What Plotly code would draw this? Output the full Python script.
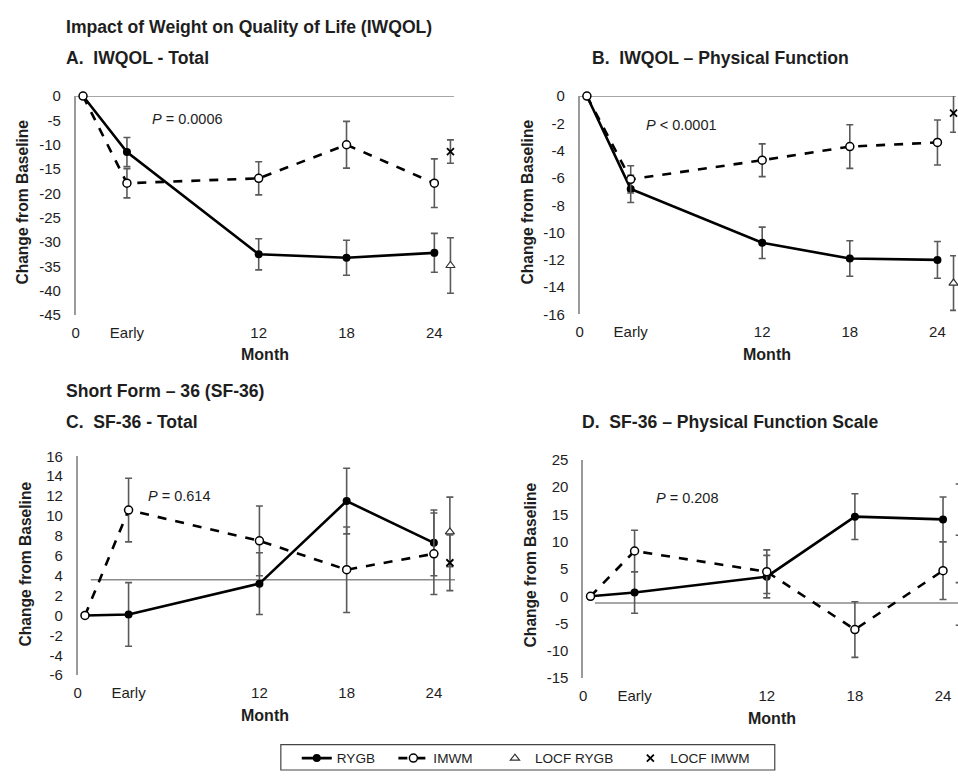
import plotly.graph_objects as go

# ---------------- data ----------------
months = [0, 3, 12, 18, 24]
locf_x = [25.1]
tick_vals = [-0.5, 3, 12, 18, 24]
tick_text = ["0", "Early", "12", "18", "24"]

# Panel A: IWQOL - Total
a_yticks = [0, -5, -10, -15, -20, -25, -30, -35, -40, -45]
a_rygb = [0, -11.5, -32.5, -33.2, -32.2]
a_rygb_err = [0, 3.0, 3.2, 3.6, 4.0]
a_imwm = [0, -17.9, -16.9, -10.0, -17.9]
a_imwm_err = [0, 3.0, 3.4, 4.8, 5.0]
a_locf_rygb = [-34.8]
a_locf_rygb_err = [5.7]
a_locf_imwm = [-11.4]
a_locf_imwm_err = [2.4]

# Panel B: IWQOL - Physical Function
b_yticks = [0, -2, -4, -6, -8, -10, -12, -14, -16]
b_rygb = [0, -6.8, -10.75, -11.9, -12.0]
b_rygb_err = [0, 1.0, 1.15, 1.3, 1.35]
b_imwm = [0, -6.1, -4.7, -3.7, -3.4]
b_imwm_err = [0, 1.0, 1.2, 1.6, 1.65]
b_locf_rygb = [-13.7]
b_locf_rygb_err = [2.0]
b_locf_imwm = [-1.25]
b_locf_imwm_err = [1.4]

# Panel C: SF-36 - Total
c_yticks = [16, 14, 12, 10, 8, 6, 4, 2, 0, -2, -4, -6]
c_rygb = [0, 0.1, 3.2, 11.5, 7.3]
c_rygb_err = [0, 3.2, 3.1, 3.3, 3.3]
c_imwm = [0, 10.6, 7.5, 4.6, 6.2]
c_imwm_err = [0, 3.2, 3.5, 4.3, 4.1]
c_locf_rygb = [8.4]
c_locf_rygb_err = [3.5]
c_locf_imwm = [5.3]
c_locf_imwm_err = [2.8]

# Panel D: SF-36 - Physical Function Scale
d_yticks = [25, 20, 15, 10, 5, 0, -5, -10, -15]
d_rygb = [0, 0.7, 3.6, 14.6, 14.1]
d_rygb_err = [0, 3.8, 3.9, 4.2, 4.1]
d_imwm = [0, 8.3, 4.5, -6.1, 4.7]
d_imwm_err = [0, 3.8, 4.0, 5.1, 5.3]
d_locf_rygb = [15.9]
d_locf_rygb_err = [4.7]
d_locf_imwm = [-1.4]
d_locf_imwm_err = [3.9]

axis_cross = [0, 0, 3.6, -1.25]
p_texts = ["<i>P</i> = 0.0006", "<i>P</i> < 0.0001", "<i>P</i> = 0.614", "<i>P</i> = 0.208"]
p_pos = [(4.6, -4.8), (3.9, -2.15), (4.2, 12.0), (4.3, 18.0)]
legend_names = ["RYGB", "IMWM", "LOCF RYGB", "LOCF IMWM"]

panels = [
    (a_rygb, a_rygb_err, a_imwm, a_imwm_err, a_locf_rygb, a_locf_rygb_err, a_locf_imwm, a_locf_imwm_err, a_yticks),
    (b_rygb, b_rygb_err, b_imwm, b_imwm_err, b_locf_rygb, b_locf_rygb_err, b_locf_imwm, b_locf_imwm_err, b_yticks),
    (c_rygb, c_rygb_err, c_imwm, c_imwm_err, c_locf_rygb, c_locf_rygb_err, c_locf_imwm, c_locf_imwm_err, c_yticks),
    (d_rygb, d_rygb_err, d_imwm, d_imwm_err, d_locf_rygb, d_locf_rygb_err, d_locf_imwm, d_locf_imwm_err, d_yticks),
]

# ---------------- layout geometry (pixels) ----------------
W, H = 958, 779
geo = [
    # x0px, x1px, xmax, y_top_px, y_bot_px, yrange
    (72, 452, 25.35, 89, 313, [-45, 0]),
    (578, 956, 25.27, 89, 312.3, [-16, 0]),
    (74, 453, 25.46, 457.3, 681, [-6, 16]),
    (581.6, 958, 25.02, 461, 684, [-15, 25]),
]
ytitle_pos = [(19, 197), (526, 197), (22, 567), (529, 568)]
month_pos = [(262, 353), (766, 353), (262, 722), (771, 725)]
xs_start = [-0.5, -0.5, 0.4, 0.3]
legend_x = [294, 391, 493, 629]
legend_box = (278, 752, 774, 778)

FONT = "Arial, Liberation Sans, sans-serif"
ERRC = "#5a5a5a"
TXT = "#1e1e1e"

fig = go.Figure()
layout_axes = {}
shapes = []
annotations = []
lg_ids = ["legend", "legend2", "legend3", "legend4"]

for i, (g, p) in enumerate(zip(geo, panels)):
    x0, x1, xmax, yt, yb, yr = g
    n = "" if i == 0 else str(i + 1)
    xa, ya = "x" + n, "y" + n
    rygb, rygb_e, imwm, imwm_e, lr, lr_e, li, li_e, yticks = p
    first = i == 0
    fig.add_trace(go.Scatter(
        x=months, y=rygb, xaxis=xa, yaxis=ya, name=legend_names[0], mode="lines+markers",
        line=dict(color="black", width=2.6),
        marker=dict(symbol="circle", size=8, color="black"),
        error_y=dict(type="data", array=rygb_e, color=ERRC, thickness=1.6, width=3.5),
        showlegend=first, legend=lg_ids[0], cliponaxis=False))
    fig.add_trace(go.Scatter(
        x=months, y=imwm, xaxis=xa, yaxis=ya, name=legend_names[1], mode="lines+markers",
        line=dict(color="black", width=2.6, dash="dash"),
        marker=dict(symbol="circle", size=8, color="white", line=dict(color="black", width=1.5)),
        error_y=dict(type="data", array=imwm_e, color=ERRC, thickness=1.6, width=3.5),
        showlegend=first, legend=lg_ids[1], cliponaxis=False))
    fig.add_trace(go.Scatter(
        x=locf_x, y=lr, xaxis=xa, yaxis=ya, name=legend_names[2], mode="markers",
        marker=dict(symbol="triangle-up", size=8, color="white", line=dict(color="#333", width=1.2)),
        error_y=dict(type="data", array=lr_e, color=ERRC, thickness=1.6, width=3.5),
        showlegend=first, legend=lg_ids[2], cliponaxis=False))
    fig.add_trace(go.Scatter(
        x=locf_x, y=li, xaxis=xa, yaxis=ya, name=legend_names[3], mode="markers",
        marker=dict(symbol="x-thin", size=7, color="black", line=dict(color="black", width=1.8)),
        error_y=dict(type="data", array=li_e, color=ERRC, thickness=1.6, width=3.5),
        showlegend=first, legend=lg_ids[3], cliponaxis=False))

    layout_axes["xaxis" + n] = dict(
        domain=[x0 / W, x1 / W], range=[-0.5, xmax], anchor=ya,
        tickmode="array", tickvals=tick_vals, ticktext=tick_text,
        showgrid=False, zeroline=False, showline=False, ticks="",
        ticklabelstandoff=7, tickfont=dict(family=FONT, size=15, color=TXT))
    layout_axes["yaxis" + n] = dict(
        domain=[1 - yb / H, 1 - yt / H], range=yr, anchor=xa,
        tickmode="array", tickvals=yticks, ticktext=[str(v) for v in yticks],
        showgrid=False, zeroline=False, showline=True, linecolor="#9a9a9a", linewidth=1.5,
        ticks="", ticklabelstandoff=10, tickfont=dict(family=FONT, size=15, color=TXT))

    shapes.append(dict(type="line", xref=xa, yref=ya, x0=xs_start[i], x1=xmax,
                       y0=axis_cross[i], y1=axis_cross[i],
                       line=dict(color="#8a8a8a", width=1.5), layer="below"))
    annotations.append(dict(text=p_texts[i], xref=xa, yref=ya, x=p_pos[i][0], y=p_pos[i][1],
                            showarrow=False, xanchor="left", yanchor="middle",
                            font=dict(family=FONT, size=14.5, color=TXT)))
    tx, ty = ytitle_pos[i]
    annotations.append(dict(text="<b>Change from Baseline</b>", xref="paper", yref="paper",
                            x=tx / W, y=1 - ty / H, xanchor="center", yanchor="middle",
                            textangle=-90, showarrow=False,
                            font=dict(family=FONT, size=15.6, color=TXT)))
    mx, my = month_pos[i]
    annotations.append(dict(text="<b>Month</b>", xref="paper", yref="paper",
                            x=mx / W, y=1 - my / H, xanchor="center", yanchor="middle",
                            showarrow=False, font=dict(family=FONT, size=16, color=TXT)))

titles = [
    ("Impact of Weight on Quality of Life (IWQOL)", 60, 18),
    ("A.  IWQOL - Total", 60, 50),
    ("B.  IWQOL – Physical Function", 588, 50),
    ("Short Form – 36 (SF-36)", 60, 391),
    ("C.  SF-36 - Total", 60, 422),
    ("D.  SF-36 – Physical Function Scale", 578, 422),
]
for t, x, y in titles:
    annotations.append(dict(text="<b>" + t + "</b>", xref="paper", yref="paper", x=x / W, y=1 - y / H,
                            xanchor="left", yanchor="middle", showarrow=False,
                            font=dict(family=FONT, size=17.6, color=TXT)))

# legend frame
bx0, by0, bx1, by1 = legend_box
shapes.append(dict(type="rect", xref="paper", yref="paper", x0=bx0 / W, x1=bx1 / W,
                   y0=1 - by1 / H, y1=1 - by0 / H, line=dict(color="#444", width=1.2),
                   fillcolor="rgba(0,0,0,0)"))

legends = {}
for k, lid in enumerate(lg_ids):
    legends[lid] = dict(orientation="h", x=legend_x[k] / W, xanchor="left",
                        y=1 - ((by0 + by1) / 2 + 1) / H, yanchor="middle",
                        bgcolor="rgba(0,0,0,0)", borderwidth=0,
                        font=dict(family=FONT, size=13.6, color=TXT))

fig.update_layout(
    width=W, height=H, margin=dict(l=0, r=0, t=0, b=0),
    paper_bgcolor="white", plot_bgcolor="white",
    shapes=shapes, annotations=annotations,
    **legends,
    **layout_axes,
)

fig.write_html(
    "out.html",
    config={"displayModeBar": False},
    post_script=(
        "document.documentElement.style.margin='0px';"
        "document.body.style.margin='0px';document.body.style.padding='0px';"
        "document.body.style.overflow='hidden';"
        "var d=document.getElementById('{plot_id}');"
        "d.style.position='absolute';d.style.left='0px';d.style.top='0px';"
    ),
)
